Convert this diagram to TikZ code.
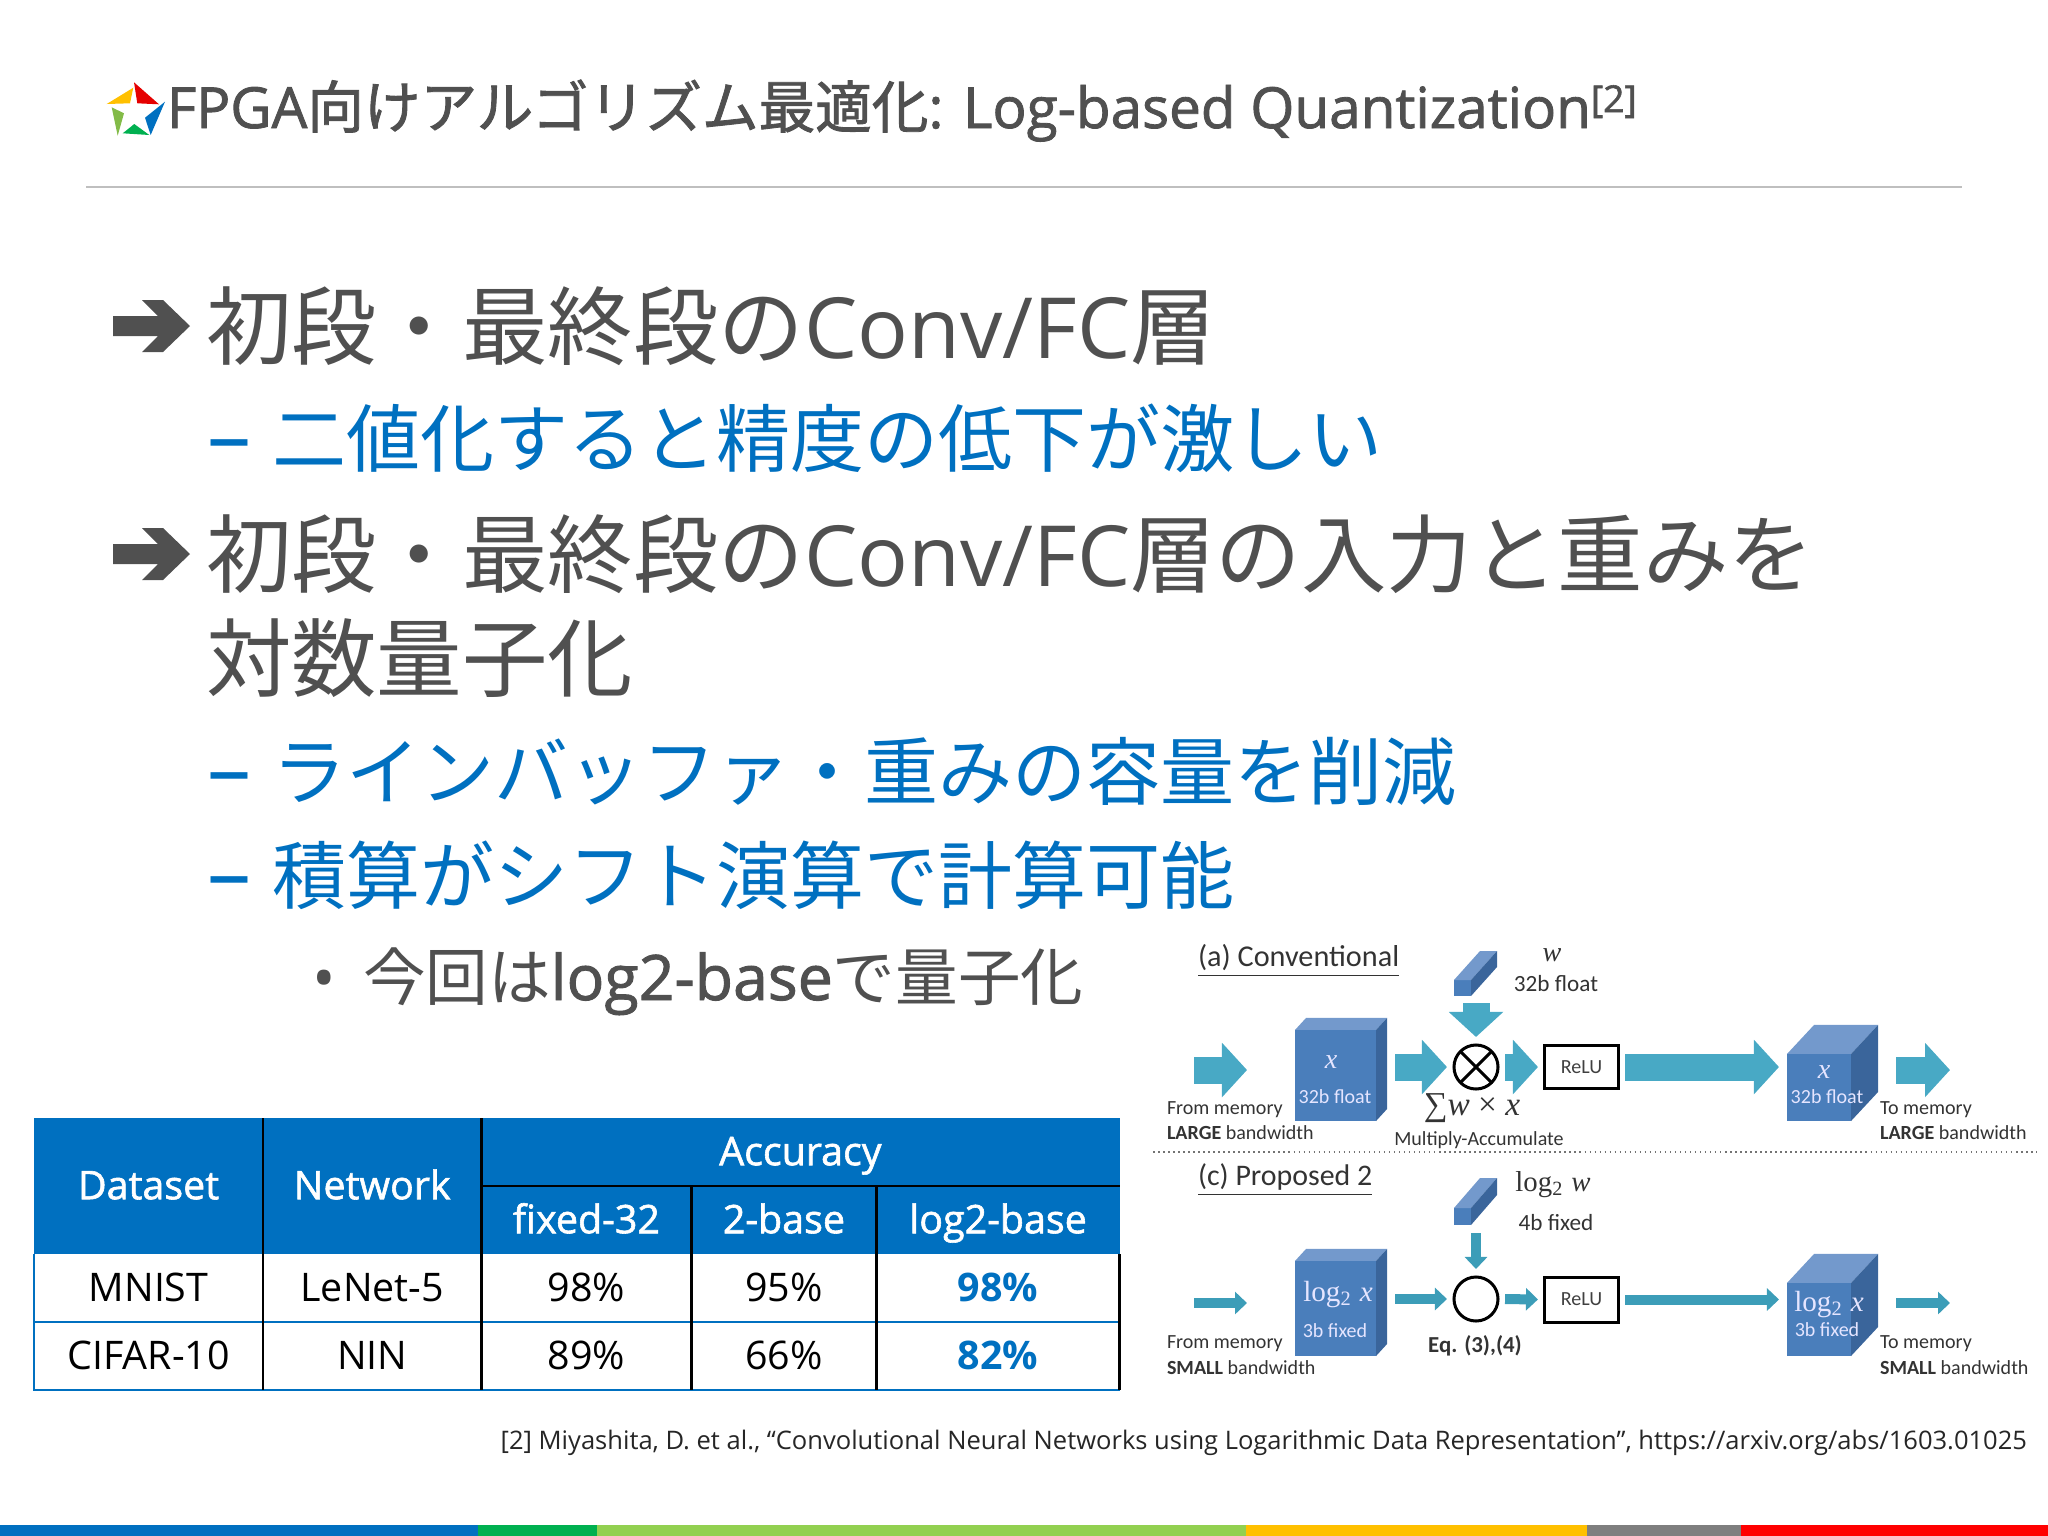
\documentclass[tikz,border=0pt]{standalone}
\usepackage{amsmath}
\usepackage{fontspec}
\usepackage{xcolor}
\setmainfont{Open Sans}
\newfontfamily\cjk{Noto Sans CJK JP}
\newfontfamily\cjkmed[FakeBold=1.5]{Noto Sans CJK JP}
\newfontfamily\semi[FakeBold=1.5]{Open Sans}
\newfontfamily\calib{Carlito}
\newfontfamily\serifm{Liberation Serif}
\usetikzlibrary{positioning,calc,arrows.meta}

\definecolor{slidegray}{HTML}{505050}
\definecolor{slideblue}{HTML}{0070C0}
\definecolor{flowteal}{HTML}{48A9C5}
\definecolor{flowdark}{HTML}{3C9DB8}
\definecolor{facefront}{HTML}{4A7EBB}
\definecolor{facetop}{HTML}{7399CC}
\definecolor{faceside}{HTML}{3A659B}
\definecolor{barred}{HTML}{FF0000}
\definecolor{bargold}{HTML}{FFC000}
\definecolor{bargreen}{HTML}{00B050}
\definecolor{barlime}{HTML}{92D050}
\definecolor{bargray}{HTML}{7F7F7F}

% extra faces of a block, from the front face node
\newcommand{\blockfaces}[3]{
    \fill[facetop] (#1.north west) -- ++(#2,#3) -- ([shift={(#2,#3)}]#1.north east) -- (#1.north east) -- cycle;
    \fill[faceside] (#1.north east) -- ++(#2,#3) -- ([shift={(#2,#3)}]#1.south east) -- (#1.south east) -- cycle;
}
\newcommand{\logname}[1]{{\serifm log\textsubscript{2} \itshape #1}}
\newcommand{\convname}{{\fontsize{24}{28}\selectfont Conv/FC}}

\begin{document}
\begin{tikzpicture}[x=0.01cm, y=-0.01cm,
        every node/.style={inner sep=0pt, outer sep=0pt},
        titletext/.style={anchor=base west, text=slidegray, font=\semi\fontsize{16.1}{20}\selectfont},
        leveltext/.style={anchor=base west, text=slidegray, font=\fontsize{24.3}{28}\selectfont},
        subtext/.style={anchor=base west, text=slideblue, font=\fontsize{21.05}{25}\selectfont},
        dashtext/.style={anchor=base west, text=slideblue, font=\fontsize{25}{25}\selectfont},
        minortext/.style={anchor=base west, text=slidegray, font=\fontsize{17.8}{22}\selectfont},
        headcell/.style={fill=slideblue, text=white, font=\semi\fontsize{11.2}{14}\selectfont, text height=1.6ex, text depth=.2ex},
        bodycell/.style={fill=white, text=black, font=\fontsize{11.2}{14}\selectfont, text height=1.6ex, text depth=.2ex},
        tblack/.style={draw=black, line width=0.025cm},
        tblue/.style={draw=slideblue, line width=0.025cm},
        fig/.style={text=black!80, font=\calib\fontsize{6.6}{8}\selectfont},
        figleft/.style={fig, anchor=west, font=\calib\fontsize{5.7}{7}\selectfont},
        figface/.style={text=white!90!blue, font=\calib\fontsize{5.7}{7}\selectfont},
        frontface/.style={fill=facefront},
        relubox/.style={draw=black, line width=0.03cm, minimum width=0.73cm, text=black!75, font=\calib\fontsize{5.7}{7}\selectfont},
        macnode/.style={circle, draw=black, line width=0.03cm, minimum size=0.44cm},
        flowbig/.style={draw=flowteal, line width=0.27cm, -{Triangle[length=0.25cm,width=0.53cm]}},
        flowthin/.style={draw=flowdark, line width=0.1cm, -{Triangle[length=0.12cm,width=0.22cm]}}
    ]
    \useasboundingbox (0,0) rectangle (2048,1536);

    % logo and title
    \fill[barred!90!black] (134,82.3) -- (159,104.3) -- (137.3,103.3) -- cycle;
    \fill[bargold] (106.7,104) -- (133.3,87.7) -- (130,103.3) -- cycle;
    \fill[slideblue] (165,101.7) -- (150.7,135) -- (145,117.7) -- cycle;
    \fill[bargreen] (122.7,133.3) -- (134.3,124) -- (149.3,135) -- cycle;
    \fill[barlime!90!black] (111.7,107.3) -- (124,113.3) -- (117.7,135.7) -- cycle;
    \node[titletext] (title) at (167,128) {FPGA{\cjkmed 向けアルゴリズム最適化}: Log-based Quantization\raisebox{4.5pt}{\fontsize{10.6}{12}\selectfont [2]}};
    \draw[black!25, line width=0.02cm] (86,187) -- (1962,187);

    % bullet arrows
    \foreach \ypos in {326,554} {
        \fill[slidegray] (113,\ypos-10) -- (158,\ypos-10) -- (142,\ypos-26) -- (163,\ypos-26) -- (190,\ypos) -- (163,\ypos+26) -- (142,\ypos+26) -- (158,\ypos+10) -- (113,\ypos+10) -- cycle;
    }

    \node[leveltext] (conv) at (206,358) {{\cjk 初段・最終段の}\convname{\cjk 層}};
    \node[dashtext] (dash1) at (207,466) {–};
    \node[subtext] (drop) at (272,466) {\cjk 二値化すると精度の低下が激しい};
    \node[leveltext] (logq) at (206,586) {{\cjk 初段・最終段の}\convname{\cjk 層の入力と重みを}};
    \node[leveltext] (logq2) at (206,690) {\cjk 対数量子化};
    \node[dashtext] (dash2) at (207,799) {–};
    \node[subtext] (buf) at (272,799) {\cjk ラインバッファ・重みの容量を削減};
    \node[dashtext] (dash3) at (207,903) {–};
    \node[subtext] (shift) at (272,903) {\cjk 積算がシフト演算で計算可能};
    \node[minortext] (dot) at (312,1000) {•};
    \node[minortext] (base) at (363,1000) {{\cjk 今回は}{\semi log2-base}{\cjk で量子化}};

    % table
    \node[headcell, anchor=north west, minimum width=2.29cm, minimum height=1.36cm] (hdset) at (34,1118) {Dataset};
    \node[headcell, right=0pt of hdset, minimum width=2.18cm, minimum height=1.36cm] (hnet) {Network};
    \node[headcell, anchor=north west, minimum width=6.38cm, minimum height=0.68cm] (hacc) at (hnet.north east) {Accuracy};
    \node[headcell, anchor=south west, minimum width=2.10cm, minimum height=0.68cm] (hfix) at (hnet.south east) {fixed-32};
    \node[headcell, right=0pt of hfix, minimum width=1.85cm, minimum height=0.68cm] (htwo) {2-base};
    \node[headcell, right=0pt of htwo, minimum width=2.43cm, minimum height=0.68cm] (hlog) {log2-base};
    \node[bodycell, below=0pt of hdset, minimum width=2.29cm, minimum height=0.68cm] (mdset) {MNIST};
    \node[bodycell, below=0pt of hnet, minimum width=2.18cm, minimum height=0.68cm] (mnet) {LeNet-5};
    \node[bodycell, below=0pt of hfix, minimum width=2.10cm, minimum height=0.68cm] (mfix) {98\%};
    \node[bodycell, below=0pt of htwo, minimum width=1.85cm, minimum height=0.68cm] (mtwo) {95\%};
    \node[bodycell, below=0pt of hlog, minimum width=2.43cm, minimum height=0.68cm, text=slideblue, font=\fontsize{11.2}{14}\selectfont\bfseries] (mlog) {98\%};
    \node[bodycell, below=0pt of mdset, minimum width=2.29cm, minimum height=0.68cm] (cdset) {CIFAR-10};
    \node[bodycell, below=0pt of mnet, minimum width=2.18cm, minimum height=0.68cm] (cnet) {NIN};
    \node[bodycell, below=0pt of mfix, minimum width=2.10cm, minimum height=0.68cm] (cfix) {89\%};
    \node[bodycell, below=0pt of mtwo, minimum width=1.85cm, minimum height=0.68cm] (ctwo) {66\%};
    \node[bodycell, below=0pt of mlog, minimum width=2.43cm, minimum height=0.68cm, text=slideblue, font=\fontsize{11.2}{14}\selectfont\bfseries] (clog) {82\%};

    \draw[tblue] (hdset.south west) -- (cdset.south west) -- (clog.south east);
    \draw[tblue] (mdset.south west) -- (mlog.south east);
    \draw[tblack] (hacc.south west) -- (hacc.south east);
    \draw[tblack] (hdset.north east) -- (cdset.south east);
    \draw[tblack] (hnet.north east) -- (cnet.south east);
    \draw[tblack] (hfix.north east) -- (cfix.south east);
    \draw[tblack] (htwo.north east) -- (ctwo.south east);
    \draw[tblack] (hlog.south east) -- (clog.south east);

    % panel (a)
    \node[fig, anchor=west, font=\calib\fontsize{8.6}{10}\selectfont] (lbla) at (1198,961) {\underline{(a) Conventional}};
    \node[frontface, minimum width=0.17cm, minimum height=0.16cm] (wbara) at (1462.5,988) {};
    \blockfaces{wbara}{26}{-29}
    \node[fig, font=\serifm\itshape\fontsize{8}{10}\selectfont] (wnamea) at (1552,955) {w};
    \node[fig] (wbitsa) at (1556,984) {32b float};
    \node[frontface, minimum width=0.81cm, minimum height=0.91cm] (cuba) at (1335.5,1075.5) {};
    \blockfaces{cuba}{11}{-12}
    \node[figface, font=\serifm\itshape\fontsize{8}{10}\selectfont] (cubaname) at (1331,1062) {x};
    \node[figface] (cubabits) at (1335,1097) {32b float};
    \node[macnode] (maca) at (1476,1067) {};
    \draw[black, line width=0.03cm] (maca.north west) -- (maca.south east);
    \draw[black, line width=0.03cm] (maca.north east) -- (maca.south west);
    \node[relubox, minimum height=0.43cm] (relua) at (1581.5,1067) {ReLU};
    \node[frontface, minimum width=0.64cm, minimum height=0.67cm] (cubb) at (1819,1087.5) {};
    \blockfaces{cubb}{27}{-29}
    \node[figface, font=\serifm\itshape\fontsize{8}{10}\selectfont] (cubbname) at (1824,1072) {x};
    \node[figface] (cubbbits) at (1827,1097) {32b float};
    \node[figleft] (froma) at (1167,1110) {From memory};
    \node[figleft] (froma2) at (1167,1133) {\textbf{LARGE} bandwidth};
    \node[fig, font=\serifm\itshape\fontsize{9.5}{11}\selectfont] (suma) at (1472,1108) {∑w {\upshape ×} x};
    \node[fig, font=\calib\fontsize{5.7}{7}\selectfont] (maclbl) at (1479,1140) {Multiply-Accumulate};
    \node[figleft] (toa) at (1880,1110) {To memory};
    \node[figleft] (toa2) at (1880,1133) {\textbf{LARGE} bandwidth};

    \coordinate (ina) at (1194,1070);
    \coordinate (inb) at (1247,1070);
    \coordinate (outa) at (1896,1070);
    \coordinate (outb) at (1950,1070);
    \draw[flowbig] (ina) -- (inb);
    \draw[flowbig, shorten <=0.19cm, shorten >=0.07cm] (cuba.east |- maca) -- (maca.west);
    \draw[flowbig, shorten <=0.07cm, shorten >=0.07cm] (maca.east) -- (relua.west);
    \draw[flowbig, shorten <=0.07cm, shorten >=0.08cm] (relua.east) -- (cubb.west |- relua);
    \draw[flowbig] (outa) -- (outb);
    \draw[flowbig, shorten <=0.07cm, shorten >=0.08cm] (maca.north |- wbara.south) -- (maca.north);

    \draw[black!55, line width=0.015cm, densely dotted] (1153,1152) -- (2037,1152);

    % panel (c)
    \node[fig, anchor=west, font=\calib\fontsize{8.5}{10}\selectfont] (lblc) at (1198,1180) {\underline{(c) Proposed 2}};
    \node[frontface, minimum width=0.17cm, minimum height=0.17cm] (wbarc) at (1462.5,1216.5) {};
    \blockfaces{wbarc}{26}{-30}
    \node[fig, font=\fontsize{8.2}{10}\selectfont] (wnamec) at (1553,1185) {\logname{w}};
    \node[fig] (wbitsc) at (1556,1223) {4b fixed};
    \node[frontface, minimum width=0.81cm, minimum height=0.95cm] (cubc) at (1335.5,1308.5) {};
    \blockfaces{cubc}{11}{-12}
    \node[figface, font=\fontsize{8.3}{10}\selectfont] (cubcname) at (1338,1295) {\logname{x}};
    \node[figface] (cubcbits) at (1335,1331) {3b fixed};
    \node[macnode] (macc) at (1476,1299) {};
    \node[relubox, minimum height=0.45cm] (reluc) at (1581.5,1299.5) {ReLU};
    \node[frontface, minimum width=0.64cm, minimum height=0.73cm] (cubd) at (1819,1319.5) {};
    \blockfaces{cubd}{27}{-29}
    \node[figface, font=\fontsize{8.3}{10}\selectfont] (cubdname) at (1829,1305) {\logname{x}};
    \node[figface] (cubdbits) at (1827,1330) {3b fixed};
    \node[figleft] (fromc) at (1167,1344) {From memory};
    \node[figleft] (fromc2) at (1167,1368) {\textbf{SMALL} bandwidth};
    \node[fig, font=\calib\bfseries\fontsize{6.5}{8}\selectfont] (eqlbl) at (1475,1346) {Eq. (3),(4)};
    \node[figleft] (toc) at (1880,1344) {To memory};
    \node[figleft] (toc2) at (1880,1368) {\textbf{SMALL} bandwidth};

    \coordinate (inc) at (1194,1303);
    \coordinate (ind) at (1247,1303);
    \coordinate (outc) at (1896,1303);
    \coordinate (outd) at (1950,1303);
    \draw[flowthin] (inc) -- (ind);
    \draw[flowthin, shorten <=0.19cm, shorten >=0.07cm] (cubc.east |- macc) -- (macc.west);
    \draw[flowthin, shorten <=0.07cm, shorten >=0.07cm] (macc.east) -- (reluc.west);
    \draw[flowthin, shorten <=0.07cm, shorten >=0.08cm] (reluc.east) -- (cubd.west |- reluc);
    \draw[flowthin] (outc) -- (outd);
    \draw[flowthin, shorten <=0.08cm, shorten >=0.08cm] (macc.north |- wbarc.south) -- (macc.north);

    % reference
    \node[anchor=east, text=black!85, font=\fontsize{7.26}{9}\selectfont] (cite) at (2027,1443) {[2] Miyashita, D. et al., “Convolutional Neural Networks using Logarithmic Data Representation”, https://arxiv.org/abs/1603.01025};

    % bottom bar
    \fill[slideblue] (0,1525) rectangle (478,1536);
    \fill[bargreen] (478,1525) rectangle (597,1536);
    \fill[barlime] (597,1525) rectangle (1246,1536);
    \fill[bargold] (1246,1525) rectangle (1587,1536);
    \fill[bargray] (1587,1525) rectangle (1741,1536);
    \fill[barred] (1741,1525) rectangle (2048,1536);
\end{tikzpicture}
\end{document}
